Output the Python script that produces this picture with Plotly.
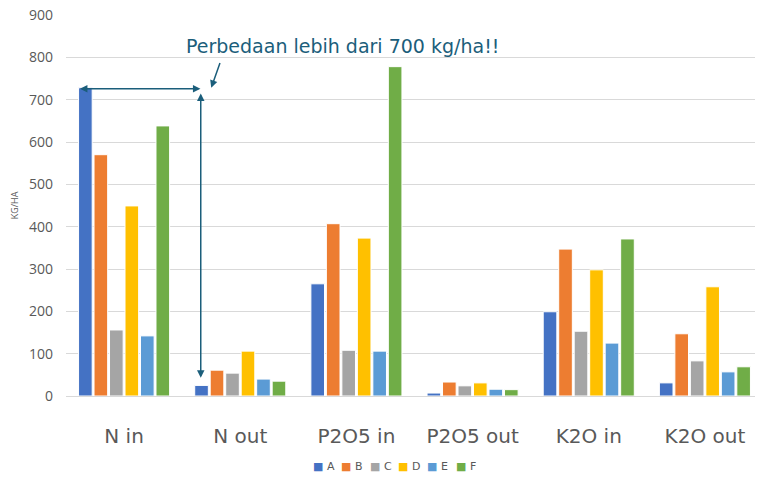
import plotly.graph_objects as go

categories = ["N in", "N out", "P2O5 in", "P2O5 out", "K2O in", "K2O out"]
series_names = ["A", "B", "C", "D", "E", "F"]
A = [728, 25, 265, 7, 199, 31]
B = [570, 61, 407, 33, 347, 147]
C = [156, 54, 108, 24, 153, 83]
D = [449, 106, 373, 31, 298, 258]
E = [142, 40, 106, 16, 125, 57]
F = [638, 35, 778, 15, 371, 69]
y_ticks = [0, 100, 200, 300, 400, 500, 600, 700, 800, 900]

colors = ["#4472C4", "#ED7D31", "#A5A5A5", "#FFC000", "#5B9BD5", "#70AD47"]
arrow_col = "#1B5E7B"

fig = go.Figure()
for name, vals, col in zip(series_names, [A, B, C, D, E, F], colors):
    fig.add_trace(go.Bar(
        x=categories, y=vals, name=name,
        marker=dict(color=col, line=dict(color="white", width=1)),
    ))

# compact legend like the original (small square + letter)
for i, (name, col) in enumerate(zip(series_names, colors)):
    fig.add_annotation(x=0.351 + i * 0.041, y=-0.185, xref="paper", yref="paper",
                       xanchor="left", yanchor="middle", showarrow=False,
                       text=f'<span style="color:{col}">■</span> {name}',
                       font=dict(family="DejaVu Sans", size=11, color="#595959"))

# double arrow across the top
fig.add_annotation(x=-0.38, y=726, ax=0.67, ay=726, xref="x", yref="y",
                   axref="x", ayref="y", text="", showarrow=True,
                   arrowhead=2, startarrowhead=2, arrowside="end+start",
                   arrowsize=1, arrowwidth=1.5, arrowcolor=arrow_col)
# vertical double arrow down to N out
fig.add_annotation(x=0.66, y=43, ax=0.66, ay=718, xref="x", yref="y",
                   axref="x", ayref="y", text="", showarrow=True,
                   arrowhead=2, startarrowhead=2, arrowside="end+start",
                   arrowsize=1, arrowwidth=1.5, arrowcolor=arrow_col)
# pointer from text
fig.add_annotation(x=0.75, y=728, ax=0.83, ay=790, xref="x", yref="y",
                   axref="x", ayref="y", text="", showarrow=True,
                   arrowhead=2, arrowsize=1, arrowwidth=1.5, arrowcolor=arrow_col)
fig.add_annotation(x=1.88, y=827, xref="x", yref="y", showarrow=False,
                   text="Perbedaan lebih dari 700 kg/ha!!",
                   font=dict(family="DejaVu Sans", size=19, color=arrow_col))

# page body has an 8px margin, so shrink the figure and pull it back
fig.update_layout(
    width=755, height=469,
    margin=dict(l=58, r=0, t=7, b=81, autoexpand=False),
    paper_bgcolor="white", plot_bgcolor="white",
    barmode="group", bargap=0.2, bargroupgap=0.12,
    font=dict(family="Open Sans", color="#595959"),
    showlegend=False,
    xaxis=dict(showgrid=False, tickfont=dict(family="DejaVu Sans", size=20, color="#595959"),
               ticklabelstandoff=22, showline=True, linecolor="#d9d9d9",
               range=[-0.5, 5.5], automargin=False),
    yaxis=dict(range=[0, 900], tickvals=y_ticks, showgrid=True, gridcolor="#d9d9d9",
               zeroline=False, tickfont=dict(size=14, color="#595959"), automargin=False,
               ticklabelstandoff=12, ticklabeloverflow="allow",
               title=dict(text="KG/HA", font=dict(size=9, color="#595959"), standoff=22)),
)

fig.write_html("out.html")
